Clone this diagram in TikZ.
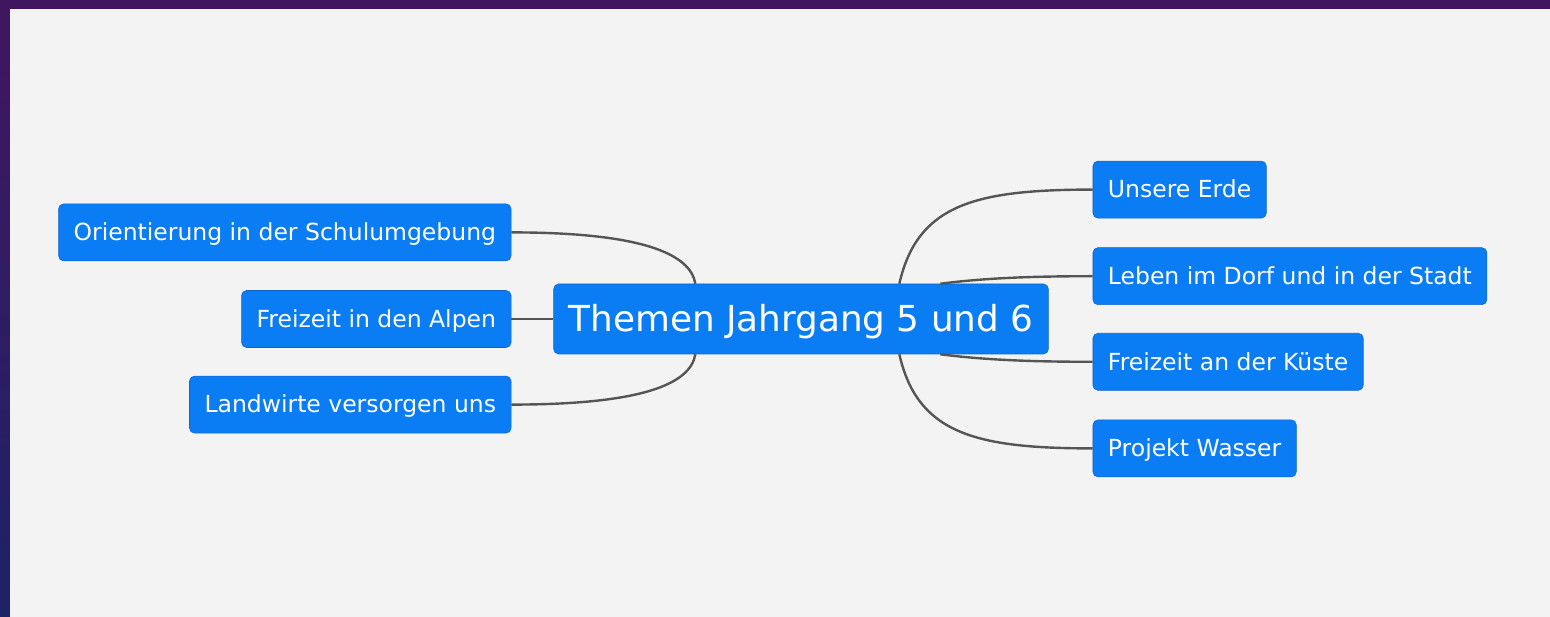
\documentclass[tikz,border=0pt]{standalone}
\usepackage{fontspec}
\setmainfont{DejaVu Sans}
\usepackage{xcolor}
\usetikzlibrary{positioning,calc}
\definecolor{boxblue}{RGB}{10,125,245}
\definecolor{boxedge}{RGB}{20,100,200}
\definecolor{pagegray}{RGB}{243,243,243}
\definecolor{framepurple}{RGB}{64,22,96}
\definecolor{framenavy}{RGB}{30,34,102}
\definecolor{linkgray}{RGB}{85,85,85}

\begin{document}
\begin{tikzpicture}[x=1pt, y=1pt, node distance=30pt,
    topic/.style={draw=boxedge, line width=0.6pt, fill=boxblue, text=white, rounded corners=5pt,
      minimum height=57pt, inner xsep=15pt, inner ysep=0pt, text height=17.5pt, text depth=1pt,
      font=\fontsize{23.5pt}{28pt}\selectfont},
    link/.style={draw=linkgray, line width=2.4pt}]
    \useasboundingbox (0,0) rectangle (1550,616);
    \shade [top color=framepurple, bottom color=framenavy] (0,-2) rectangle (1552,616);
    \fill [pagegray] (10,-2) rectangle (1552,607);

    \node [topic, minimum height=70pt, text height=26.5pt, text depth=1.5pt,
      font=\fontsize{35.8pt}{42pt}\selectfont] (theme) at (801,297) {Themen Jahrgang 5 und 6};
    \node [topic, left=42pt of theme] (alpen) {Freizeit in den Alpen};
    \node [topic, above left=29pt and 0pt of alpen.north east] (orient) {Orientierung in der Schulumgebung};
    \node [topic, below left=28pt and 0pt of alpen.south east] (landwirte) {Landwirte versorgen uns};
    \node [topic, above right=14pt and 44pt of theme.east] (leben) {Leben im Dorf und in der Stadt};
    \node [topic, below right=14pt and 44pt of theme.east] (kueste) {Freizeit an der Küste};
    \node [topic, above right=29pt and 0pt of leben.north west] (erde) {Unsere Erde};
    \node [topic, below right=29pt and 0pt of kueste.south west] (wasser) {Projekt Wasser};

    \draw [link] (alpen) -- (alpen -| theme.west);
    \draw [link] (orient.east) .. controls +(130,0) and +(-5,30) .. ($(theme.north west)+(142,0)$);
    \draw [link] (landwirte.east) .. controls +(130,0) and +(-5,-30) .. ($(theme.south west)+(142,0)$);
    \draw [link] ($(theme.north west)+(346,0)$) .. controls +(18,79) and +(-118,0) .. (erde.west);
    \draw [link] ($(theme.north west)+(387,0)$) .. controls +(40,5) and +(-70,0) .. (leben.west);
    \draw [link] ($(theme.south west)+(387,0)$) .. controls +(40,-5) and +(-70,0) .. (kueste.west);
    \draw [link] ($(theme.south west)+(346,0)$) .. controls +(18,-79) and +(-118,0) .. (wasser.west);
\end{tikzpicture}
\end{document}
